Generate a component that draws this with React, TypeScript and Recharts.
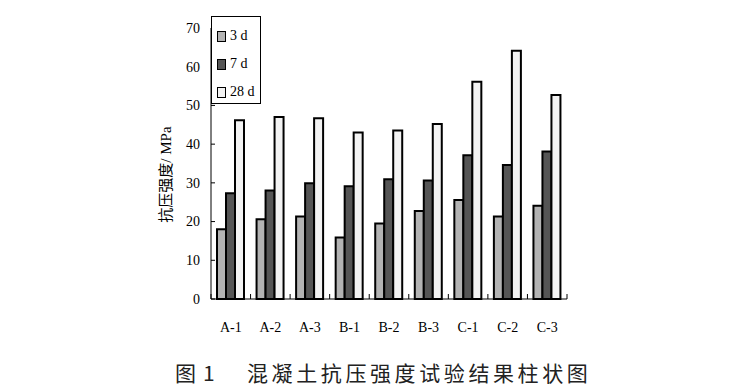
import React from "react";
import { BarChart, Bar, XAxis, YAxis, Label } from "recharts";

const categories = ["A-1", "A-2", "A-3", "B-1", "B-2", "B-3", "C-1", "C-2", "C-3"];
const day3 = [18.0, 20.6, 21.3, 15.9, 19.5, 22.7, 25.6, 21.3, 24.1];
const day7 = [27.3, 28.0, 29.9, 29.1, 30.9, 30.6, 37.1, 34.6, 38.1];
const day28 = [46.2, 47.0, 46.7, 43.0, 43.5, 45.2, 56.1, 64.1, 52.7];
const yTicks = [0, 10, 20, 30, 40, 50, 60, 70];

const seriesList = [
  { key: "d3", name: "3 d", color: "#b3b3b3" },
  { key: "d7", name: "7 d", color: "#555555" },
  { key: "d28", name: "28 d", color: "#f3f3f3" },
];

const data = categories.map((c, i) => ({
  name: c,
  d3: day3[i],
  d7: day7[i],
  d28: day28[i],
}));

const W = 748;
const H = 386;
const PLOT_LEFT = 211;
const PLOT_RIGHT = 567;
const PLOT_TOP = 28;
const PLOT_BOTTOM = 299;
const Y_AXIS_W = 40;
const X_AXIS_H = 30;
const serif = "'Liberation Serif', 'Times New Roman', 'Noto Sans CJK SC', serif";

const bandHalf = (PLOT_RIGHT - PLOT_LEFT) / categories.length / 2;

const XTick = (props: any) => {
  const { x, y, payload, index, visibleTicksCount } = props;
  const half = payload && payload.offset ? payload.offset : bandHalf;
  const axisY = y - 28;
  return (
    <g>
      <line x1={x - half} x2={x - half} y1={axisY} y2={axisY - 5} stroke="#000" strokeWidth={1} />
      {index === visibleTicksCount - 1 && (
        <line x1={x + half} x2={x + half} y1={axisY} y2={axisY - 5} stroke="#000" strokeWidth={1} />
      )}
      <text x={x} y={y} dy="0.35em" textAnchor="middle" fontFamily={serif} fontSize={14} fill="#000">
        {payload.value}
      </text>
    </g>
  );
};

const YTick = (props: any) => {
  const { x, y, payload } = props;
  return (
    <g>
      <line x1={x + 11} x2={x + 15} y1={y} y2={y} stroke="#000" strokeWidth={1} />
      <text x={x} y={y} dy="0.35em" textAnchor="end" fontFamily={serif} fontSize={14} fill="#000">
        {payload.value}
      </text>
    </g>
  );
};

const LegendBox = () => (
  <div
    style={{
      position: "absolute",
      left: PLOT_LEFT,
      top: 16,
      width: 50,
      height: 88,
      border: "1px solid #000",
      boxSizing: "border-box",
      background: "#fff",
      fontFamily: serif,
      fontSize: 14,
      color: "#000",
    }}
  >
    {seriesList.map((s, i) => (
      <div
        key={s.key}
        style={{
          position: "absolute",
          left: 5,
          top: 12 + i * 28,
          display: "flex",
          alignItems: "center",
          lineHeight: "14px",
        }}
      >
        <span
          style={{
            display: "inline-block",
            width: 9,
            height: 11,
            background: s.color,
            border: "1.5px solid #000",
            boxSizing: "border-box",
            marginRight: 4,
          }}
        />
        <span>{s.name}</span>
      </div>
    ))}
  </div>
);

const YLabel = (props: any) => {
  const vb = props.viewBox || {};
  const cx = vb.x - 5;
  const cy = vb.y + vb.height / 2 + 11;
  return (
    <text
      x={cx}
      y={cy}
      transform={`rotate(-90, ${cx}, ${cy})`}
      textAnchor="middle"
      dominantBaseline="central"
      fontFamily={serif}
      fontSize={15}
      fill="#000"
    >
      抗压强度/ MPa
    </text>
  );
};

export default function App() {
  return (
    <div style={{ position: "absolute", left: 0, top: 0, width: W, height: H, background: "#fff" }}>
      <BarChart
        width={W}
        height={H}
        data={data}
        barSize={9}
        barGap={0}
        margin={{
          top: PLOT_TOP,
          right: W - PLOT_RIGHT,
          bottom: H - PLOT_BOTTOM - X_AXIS_H,
          left: PLOT_LEFT - Y_AXIS_W,
        }}
      >
        <XAxis
          dataKey="name"
          height={X_AXIS_H}
          tickLine={false}
          tickSize={0}
          tickMargin={28}
          axisLine={{ stroke: "#000", strokeWidth: 1 }}
          tick={<XTick />}
          interval={0}
        />
        <YAxis
          width={Y_AXIS_W}
          domain={[0, 70]}
          ticks={yTicks}
          tickLine={false}
          tickSize={0}
          tickMargin={11}
          axisLine={{ stroke: "#000", strokeWidth: 1 }}
          tick={<YTick />}
          interval={0}
        >
          <Label content={<YLabel />} />
        </YAxis>
        {seriesList.map((s) => (
          <Bar
            key={s.key}
            dataKey={s.key}
            name={s.name}
            fill={s.color}
            stroke="#000"
            strokeWidth={2}
            isAnimationActive={false}
          />
        ))}
      </BarChart>
      <LegendBox />
      <div
        style={{
          position: "absolute",
          left: 175,
          top: 360,
          fontFamily: "'Noto Sans CJK SC', sans-serif",
          fontSize: 21,
          lineHeight: "24px",
          color: "#222",
          whiteSpace: "pre",
        }}
      >
        <span>图</span>
        <span style={{ position: "absolute", left: 28, top: 0 }}>1</span>
        <span style={{ position: "absolute", left: 72, top: 0, letterSpacing: 3.6 }}>
          混凝土抗压强度试验结果柱状图
        </span>
      </div>
    </div>
  );
}
